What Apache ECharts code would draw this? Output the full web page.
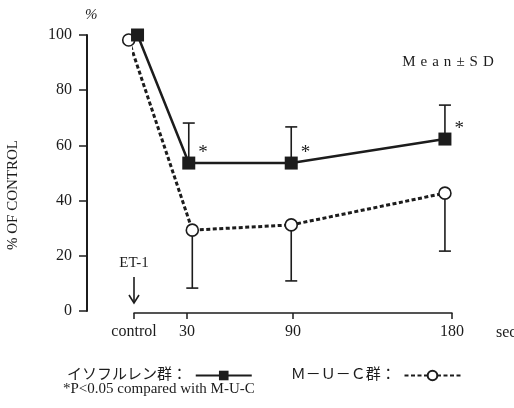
<!DOCTYPE html>
<html>
<head>
<meta charset="utf-8">
<script src="https://cdn.jsdelivr.net/npm/echarts@6/dist/echarts.min.js"></script>
<style>
html,body{margin:0;padding:0;background:#fff;}
#c{width:514px;height:408px;}
</style>
</head>
<body>
<div id="c"></div>
<script>
// ---- data ----
const xTicks = [0, 30, 90, 180];
const xTickLabels = ['control', '30', '90', '180'];
const yTicks = [0, 20, 40, 60, 80, 100];

const isoName = 'イソフルレン群';
const isoX = [2, 31, 89, 176];
const isoMean = [100, 53.6, 53.6, 62.3];
const isoUpper = [null, 68.1, 66.7, 74.6];
const isoSig = ['', '*', '*', '*'];

const mucName = 'Ｍ－Ｕ－Ｃ群';
const mucX = [-3, 33, 89, 176];
const mucMean = [98.2, 29.3, 31.2, 42.7];
const mucLower = [null, 8.3, 10.9, 21.7];

const serif = '"Liberation Serif", "Times New Roman", "Noto Sans CJK JP", serif';
const ink = '#1c1c1c';

const isoData = isoX.map((x, i) => [x, isoMean[i], isoSig[i]]);
const mucData = mucX.map((x, i) => [x, mucMean[i]]);
const errData = [];
isoX.forEach((x, i) => { if (isoUpper[i] != null) errData.push([x, isoMean[i], isoUpper[i]]); });
mucX.forEach((x, i) => { if (mucLower[i] != null) errData.push([x, mucMean[i], mucLower[i]]); });

const chart = echarts.init(document.getElementById('c'), null, {renderer: 'canvas'});

const option = {
  animation: false,
  backgroundColor: '#fff',
  grid: {left: 134, right: 62, top: 35, bottom: 97, containLabel: false},
  legend: {
    data: [isoName, mucName],
    left: 62, top: 363,
    orient: 'horizontal',
    align: 'right',
    itemWidth: 56, itemHeight: 12, itemGap: 38,
    formatter: n => n + '： ',
    textStyle: {fontFamily: serif, fontSize: 15, color: ink},
    selectedMode: false
  },
  xAxis: {
    type: 'value', min: 0, max: 180, position: 'bottom', offset: 2,
    splitLine: {show: false},
    axisLine: {show: true, onZero: false, lineStyle: {color: ink, width: 1.5}},
    axisTick: {show: true, length: 6, customValues: xTicks, lineStyle: {color: ink, width: 1.5}},
    axisLabel: {
      customValues: xTicks, margin: 11,
      formatter: v => xTickLabels[xTicks.indexOf(v)] || '',
      fontFamily: serif, fontSize: 16, color: ink
    }
  },
  yAxis: {
    type: 'value', min: 0, max: 100, interval: 20, position: 'left', offset: 47,
    splitLine: {show: false},
    axisLine: {show: true, onZero: false, lineStyle: {color: ink, width: 2}},
    axisTick: {show: true, length: 8, lineStyle: {color: ink, width: 1.5}},
    axisLabel: {margin: 15, fontFamily: serif, fontSize: 16, color: ink}
  },
  series: [
    {
      type: 'custom', name: 'err', z: 1, clip: false,
      data: errData,
      renderItem: function (params, api) {
        const x = api.value(0);
        const p0 = api.coord([x, api.value(1)]);
        const p1 = api.coord([x, api.value(2)]);
        const cap = 6;
        return {
          type: 'group',
          children: [
            {type: 'line', shape: {x1: p0[0], y1: p0[1], x2: p1[0], y2: p1[1]}, style: {stroke: ink, lineWidth: 1.6}},
            {type: 'line', shape: {x1: p1[0] - cap, y1: p1[1], x2: p1[0] + cap, y2: p1[1]}, style: {stroke: ink, lineWidth: 1.6}}
          ]
        };
      }
    },
    {
      type: 'line', name: mucName, z: 3, clip: false,
      data: mucData,
      symbol: 'circle', symbolSize: 12, showSymbol: true,
      itemStyle: {color: '#fff', borderColor: ink, borderWidth: 1.6},
      lineStyle: {color: ink, width: 3, type: [4, 2.5]}
    },
    {
      type: 'line', name: isoName, z: 4, clip: false,
      data: isoData,
      symbol: 'rect', symbolSize: 13, showSymbol: true,
      itemStyle: {color: ink},
      lineStyle: {color: ink, width: 2.5},
      label: {
        show: true, position: 'right', distance: 3, offset: [0, -10],
        formatter: p => p.data[2],
        fontFamily: serif, fontSize: 19, color: ink
      }
    }
  ]
};
chart.setOption(option);

// annotations placed relative to the axes
const x0 = chart.convertToPixel({xAxisIndex: 0}, 0);
const yBase = chart.convertToPixel({yAxisIndex: 0}, 0);
const yTop = chart.convertToPixel({yAxisIndex: 0}, 100);
const yAxisX = 134 - 47;
chart.setOption({
  graphic: [
    {type: 'text', left: yAxisX - 2, top: yTop - 27, style: {text: '%', font: 'italic 15px ' + serif, fill: ink}},
    {type: 'text', x: 13, y: 195, rotation: Math.PI / 2,
      style: {text: '% OF CONTROL', font: '15px ' + serif, fill: ink, align: 'center', verticalAlign: 'middle'}},
    {type: 'text', x: 448, y: 62,
      style: {text: 'M\u2004e\u2004a\u2004n\u2004±\u2004S\u2004D', font: '15px ' + serif, fill: ink, align: 'center', verticalAlign: 'middle'}},
    {type: 'text', x: x0, y: yBase - 48,
      style: {text: 'ET-1', font: '15px ' + serif, fill: ink, align: 'center', verticalAlign: 'middle'}},
    {type: 'polyline', shape: {points: [[x0, yBase - 34], [x0, yBase - 8]]}, style: {stroke: ink, lineWidth: 1.6, fill: null}},
    {type: 'polyline', shape: {points: [[x0 - 5, yBase - 16], [x0, yBase - 8], [x0 + 5, yBase - 16]]}, style: {stroke: ink, lineWidth: 1.6, fill: null}},
    {type: 'text', x: 496, y: 333, style: {text: 'sec', font: '16px ' + serif, fill: ink, align: 'left', verticalAlign: 'middle'}},
    {type: 'text', x: 63, y: 389, style: {text: '*P<0.05 compared with M-U-C', font: '15px ' + serif, fill: ink, align: 'left', verticalAlign: 'middle'}}
  ]
});
</script>
</body>
</html>
